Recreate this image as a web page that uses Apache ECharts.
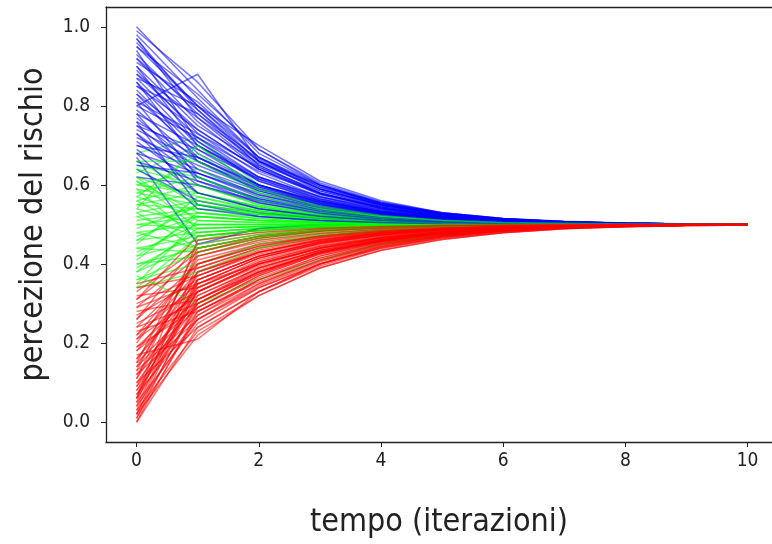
<!DOCTYPE html>
<html>
<head>
<meta charset="utf-8">
<script src="https://cdn.jsdelivr.net/npm/echarts@6/dist/echarts.min.js"></script>
<style>html,body{margin:0;padding:0;background:#fff;}#c{width:772px;height:544px;}</style>
</head>
<body>
<div id="c"></div>
<script>
const iterations = [0,1,2,3,4,5,6,7,8,9,10];
const xTicks = [0,2,4,6,8,10];
const yTicks = [0,0.2,0.4,0.6,0.8,1.0];

const blueLines = [
[1.00,0.84,0.68,0.60,0.555,0.53,0.515,0.508,0.504,0.502,0.501],
[0.98,0.82,0.67,0.59,0.55,0.526,0.513,0.507,0.503,0.501,0.50],
[0.96,0.80,0.70,0.61,0.56,0.53,0.515,0.507,0.503,0.501,0.50],
[0.95,0.80,0.66,0.585,0.545,0.524,0.512,0.506,0.503,0.501,0.50],
[0.93,0.78,0.65,0.58,0.54,0.52,0.51,0.505,0.502,0.501,0.50],
[0.92,0.76,0.64,0.575,0.54,0.52,0.51,0.505,0.502,0.501,0.50],
[0.90,0.75,0.655,0.59,0.55,0.525,0.512,0.506,0.503,0.501,0.50],
[0.89,0.73,0.63,0.57,0.535,0.518,0.509,0.504,0.502,0.501,0.50],
[0.88,0.77,0.66,0.60,0.55,0.527,0.513,0.506,0.503,0.501,0.50],
[0.87,0.72,0.62,0.565,0.533,0.517,0.508,0.504,0.502,0.501,0.50],
[0.86,0.70,0.61,0.56,0.53,0.515,0.507,0.504,0.502,0.501,0.50],
[0.85,0.74,0.64,0.58,0.545,0.522,0.511,0.505,0.502,0.501,0.50],
[0.84,0.69,0.60,0.555,0.528,0.514,0.507,0.503,0.502,0.501,0.50],
[0.83,0.71,0.62,0.57,0.537,0.519,0.51,0.505,0.502,0.501,0.50],
[0.82,0.68,0.60,0.555,0.53,0.515,0.507,0.504,0.502,0.501,0.50],
[0.81,0.73,0.645,0.585,0.548,0.525,0.512,0.506,0.503,0.501,0.50],
[0.80,0.88,0.66,0.59,0.55,0.526,0.513,0.506,0.503,0.501,0.50],
[0.79,0.66,0.59,0.55,0.527,0.514,0.507,0.503,0.502,0.501,0.50],
[0.78,0.70,0.62,0.57,0.54,0.52,0.51,0.505,0.502,0.501,0.50],
[0.77,0.64,0.575,0.54,0.522,0.511,0.506,0.503,0.501,0.50,0.50],
[0.76,0.67,0.60,0.56,0.533,0.517,0.508,0.504,0.502,0.501,0.50],
[0.75,0.63,0.57,0.538,0.52,0.51,0.505,0.503,0.501,0.50,0.50],
[0.74,0.66,0.595,0.557,0.532,0.517,0.508,0.504,0.502,0.501,0.50],
[0.73,0.62,0.565,0.535,0.519,0.51,0.505,0.502,0.501,0.50,0.50],
[0.72,0.65,0.59,0.553,0.53,0.516,0.508,0.504,0.502,0.501,0.50],
[0.71,0.60,0.555,0.53,0.516,0.508,0.504,0.502,0.501,0.50,0.50],
[0.70,0.64,0.585,0.55,0.528,0.515,0.507,0.504,0.502,0.501,0.50],
[0.69,0.58,0.54,0.522,0.512,0.506,0.503,0.502,0.501,0.50,0.50],
[0.68,0.63,0.58,0.546,0.526,0.514,0.507,0.503,0.502,0.501,0.50],
[0.67,0.45,0.49,0.50,0.50,0.50,0.50,0.50,0.50,0.50,0.50],
[0.66,0.61,0.565,0.538,0.521,0.511,0.505,0.503,0.501,0.50,0.50],
[0.64,0.56,0.53,0.515,0.508,0.504,0.502,0.501,0.50,0.50,0.50],
[0.62,0.60,0.56,0.535,0.52,0.51,0.505,0.502,0.501,0.50,0.50],
[0.94,0.71,0.61,0.56,0.53,0.515,0.507,0.504,0.502,0.501,0.50],
[0.91,0.81,0.67,0.595,0.553,0.528,0.514,0.507,0.503,0.501,0.50],
[0.97,0.79,0.65,0.58,0.543,0.522,0.511,0.505,0.502,0.501,0.50],
[0.99,0.86,0.69,0.605,0.557,0.53,0.515,0.507,0.503,0.501,0.50],
[0.76,0.55,0.52,0.51,0.505,0.502,0.501,0.50,0.50,0.50,0.50],
[0.86,0.66,0.585,0.545,0.524,0.512,0.506,0.503,0.501,0.50,0.50],
[0.81,0.62,0.56,0.532,0.517,0.508,0.504,0.502,0.501,0.50,0.50],
[0.95,0.83,0.69,0.60,0.553,0.528,0.514,0.507,0.503,0.501,0.50],
[0.92,0.79,0.66,0.59,0.548,0.525,0.512,0.506,0.503,0.501,0.50],
[0.90,0.70,0.615,0.563,0.532,0.516,0.508,0.504,0.502,0.501,0.50],
[0.88,0.74,0.64,0.578,0.542,0.521,0.51,0.505,0.502,0.501,0.50],
[0.85,0.78,0.665,0.595,0.553,0.528,0.514,0.507,0.503,0.501,0.50],
[0.83,0.67,0.595,0.552,0.527,0.514,0.507,0.503,0.502,0.501,0.50],
[0.80,0.72,0.635,0.578,0.544,0.523,0.511,0.505,0.502,0.501,0.50],
[0.78,0.61,0.555,0.528,0.514,0.507,0.503,0.502,0.501,0.50,0.50],
[0.75,0.69,0.615,0.565,0.536,0.519,0.509,0.504,0.502,0.501,0.50],
[0.73,0.58,0.54,0.52,0.51,0.505,0.502,0.501,0.50,0.50,0.50],
[0.70,0.67,0.60,0.558,0.532,0.517,0.508,0.504,0.502,0.501,0.50],
[0.68,0.54,0.52,0.51,0.505,0.502,0.501,0.50,0.50,0.50,0.50],
[0.65,0.63,0.575,0.543,0.524,0.512,0.506,0.503,0.501,0.50,0.50],
[0.87,0.80,0.67,0.60,0.555,0.529,0.514,0.507,0.503,0.501,0.50],
[0.97,0.77,0.645,0.578,0.542,0.521,0.51,0.505,0.502,0.501,0.50]
];

const greenLines = [
[0.68,0.72,0.60,0.55,0.525,0.512,0.506,0.503,0.501,0.50,0.50],
[0.66,0.58,0.545,0.522,0.511,0.505,0.503,0.501,0.50,0.50,0.50],
[0.65,0.62,0.56,0.53,0.515,0.507,0.503,0.502,0.501,0.50,0.50],
[0.64,0.55,0.525,0.512,0.506,0.503,0.501,0.50,0.50,0.50,0.50],
[0.63,0.70,0.59,0.545,0.522,0.511,0.505,0.503,0.501,0.50,0.50],
[0.62,0.57,0.54,0.52,0.51,0.505,0.502,0.501,0.50,0.50,0.50],
[0.61,0.53,0.515,0.507,0.503,0.502,0.501,0.50,0.50,0.50,0.50],
[0.60,0.58,0.545,0.524,0.512,0.506,0.503,0.501,0.50,0.50,0.50],
[0.59,0.46,0.49,0.497,0.499,0.50,0.50,0.50,0.50,0.50,0.50],
[0.58,0.55,0.53,0.515,0.507,0.504,0.502,0.501,0.50,0.50,0.50],
[0.57,0.52,0.51,0.505,0.502,0.501,0.50,0.50,0.50,0.50,0.50],
[0.56,0.60,0.55,0.525,0.512,0.506,0.503,0.501,0.50,0.50,0.50],
[0.55,0.54,0.525,0.513,0.506,0.503,0.501,0.50,0.50,0.50,0.50],
[0.54,0.50,0.50,0.50,0.50,0.50,0.50,0.50,0.50,0.50,0.50],
[0.53,0.56,0.535,0.517,0.508,0.504,0.502,0.501,0.50,0.50,0.50],
[0.52,0.47,0.485,0.493,0.497,0.499,0.50,0.50,0.50,0.50,0.50],
[0.51,0.53,0.52,0.51,0.505,0.502,0.501,0.50,0.50,0.50,0.50],
[0.50,0.49,0.495,0.498,0.499,0.50,0.50,0.50,0.50,0.50,0.50],
[0.49,0.55,0.53,0.515,0.507,0.504,0.502,0.501,0.50,0.50,0.50],
[0.48,0.44,0.47,0.485,0.493,0.497,0.499,0.50,0.50,0.50,0.50],
[0.47,0.52,0.51,0.505,0.502,0.501,0.50,0.50,0.50,0.50,0.50],
[0.46,0.48,0.49,0.495,0.498,0.499,0.50,0.50,0.50,0.50,0.50],
[0.45,0.57,0.535,0.518,0.509,0.504,0.502,0.501,0.50,0.50,0.50],
[0.44,0.43,0.465,0.483,0.492,0.496,0.498,0.499,0.50,0.50,0.50],
[0.43,0.50,0.50,0.50,0.50,0.50,0.50,0.50,0.50,0.50,0.50],
[0.42,0.46,0.48,0.49,0.495,0.498,0.499,0.50,0.50,0.50,0.50],
[0.41,0.53,0.515,0.507,0.503,0.502,0.501,0.50,0.50,0.50,0.50],
[0.40,0.42,0.46,0.48,0.49,0.495,0.498,0.499,0.50,0.50,0.50],
[0.39,0.48,0.49,0.495,0.498,0.499,0.50,0.50,0.50,0.50,0.50],
[0.38,0.45,0.475,0.488,0.494,0.497,0.499,0.50,0.50,0.50,0.50],
[0.36,0.40,0.45,0.475,0.488,0.494,0.497,0.499,0.50,0.50,0.50],
[0.35,0.51,0.505,0.502,0.501,0.50,0.50,0.50,0.50,0.50,0.50],
[0.34,0.47,0.485,0.493,0.497,0.499,0.50,0.50,0.50,0.50,0.50],
[0.60,0.64,0.57,0.535,0.518,0.509,0.504,0.502,0.501,0.50,0.50],
[0.57,0.68,0.58,0.54,0.52,0.51,0.505,0.502,0.501,0.50,0.50],
[0.53,0.44,0.47,0.485,0.493,0.497,0.499,0.50,0.50,0.50,0.50],
[0.61,0.49,0.495,0.498,0.499,0.50,0.50,0.50,0.50,0.50,0.50],
[0.37,0.30,0.36,0.41,0.45,0.475,0.488,0.494,0.497,0.499,0.50],
[0.66,0.66,0.58,0.54,0.52,0.51,0.505,0.502,0.501,0.50,0.50],
[0.64,0.60,0.55,0.525,0.512,0.506,0.503,0.501,0.50,0.50,0.50],
[0.62,0.51,0.505,0.502,0.501,0.50,0.50,0.50,0.50,0.50,0.50],
[0.59,0.56,0.535,0.517,0.508,0.504,0.502,0.501,0.50,0.50,0.50],
[0.58,0.62,0.56,0.53,0.515,0.507,0.503,0.502,0.501,0.50,0.50],
[0.56,0.48,0.49,0.495,0.498,0.499,0.50,0.50,0.50,0.50,0.50],
[0.55,0.58,0.545,0.522,0.511,0.505,0.503,0.501,0.50,0.50,0.50],
[0.52,0.54,0.525,0.512,0.506,0.503,0.501,0.50,0.50,0.50,0.50],
[0.50,0.52,0.51,0.505,0.502,0.501,0.50,0.50,0.50,0.50,0.50],
[0.48,0.50,0.50,0.50,0.50,0.50,0.50,0.50,0.50,0.50,0.50],
[0.46,0.55,0.53,0.515,0.507,0.504,0.502,0.501,0.50,0.50,0.50],
[0.44,0.47,0.485,0.493,0.497,0.499,0.50,0.50,0.50,0.50,0.50],
[0.42,0.52,0.51,0.505,0.502,0.501,0.50,0.50,0.50,0.50,0.50],
[0.40,0.44,0.47,0.485,0.493,0.497,0.499,0.50,0.50,0.50,0.50],
[0.38,0.49,0.495,0.498,0.499,0.50,0.50,0.50,0.50,0.50,0.50],
[0.36,0.43,0.465,0.483,0.492,0.496,0.498,0.499,0.50,0.50,0.50],
[0.34,0.38,0.44,0.47,0.485,0.493,0.497,0.499,0.50,0.50,0.50],
[0.54,0.70,0.59,0.545,0.522,0.511,0.505,0.503,0.501,0.50,0.50]
];

const redLines = [
[0.00,0.24,0.33,0.40,0.44,0.465,0.48,0.49,0.495,0.498,0.499],
[0.01,0.27,0.36,0.42,0.455,0.473,0.485,0.492,0.496,0.498,0.499],
[0.02,0.30,0.38,0.43,0.46,0.477,0.488,0.494,0.497,0.499,0.50],
[0.03,0.35,0.40,0.44,0.465,0.48,0.49,0.495,0.497,0.499,0.50],
[0.04,0.26,0.345,0.405,0.447,0.47,0.484,0.492,0.496,0.498,0.499],
[0.05,0.40,0.45,0.47,0.485,0.492,0.496,0.498,0.499,0.50,0.50],
[0.06,0.29,0.37,0.425,0.457,0.475,0.487,0.493,0.497,0.498,0.499],
[0.07,0.32,0.39,0.435,0.462,0.479,0.489,0.494,0.497,0.499,0.50],
[0.08,0.28,0.355,0.41,0.45,0.472,0.485,0.492,0.496,0.498,0.499],
[0.09,0.36,0.42,0.455,0.475,0.487,0.493,0.497,0.498,0.499,0.50],
[0.10,0.31,0.385,0.432,0.46,0.478,0.488,0.494,0.497,0.499,0.50],
[0.11,0.43,0.47,0.485,0.492,0.496,0.498,0.499,0.50,0.50,0.50],
[0.12,0.33,0.40,0.44,0.465,0.48,0.49,0.495,0.497,0.499,0.50],
[0.13,0.27,0.35,0.408,0.448,0.471,0.485,0.492,0.496,0.498,0.499],
[0.14,0.38,0.43,0.46,0.478,0.488,0.494,0.497,0.499,0.50,0.50],
[0.15,0.30,0.375,0.428,0.458,0.476,0.487,0.493,0.497,0.498,0.499],
[0.16,0.34,0.41,0.448,0.47,0.483,0.491,0.495,0.498,0.499,0.50],
[0.17,0.21,0.33,0.40,0.445,0.47,0.484,0.492,0.496,0.498,0.499],
[0.18,0.37,0.425,0.458,0.477,0.488,0.494,0.497,0.499,0.50,0.50],
[0.19,0.29,0.365,0.42,0.455,0.474,0.486,0.493,0.496,0.498,0.499],
[0.20,0.41,0.45,0.472,0.485,0.492,0.496,0.498,0.499,0.50,0.50],
[0.21,0.32,0.39,0.435,0.463,0.479,0.489,0.494,0.497,0.499,0.50],
[0.22,0.35,0.415,0.452,0.473,0.485,0.492,0.496,0.498,0.499,0.50],
[0.23,0.28,0.36,0.415,0.452,0.473,0.486,0.493,0.496,0.498,0.499],
[0.24,0.39,0.44,0.467,0.482,0.49,0.495,0.497,0.499,0.50,0.50],
[0.25,0.33,0.40,0.442,0.467,0.481,0.49,0.495,0.497,0.499,0.50],
[0.26,0.45,0.475,0.488,0.494,0.497,0.499,0.50,0.50,0.50,0.50],
[0.27,0.36,0.42,0.457,0.477,0.488,0.494,0.497,0.498,0.499,0.50],
[0.28,0.31,0.38,0.43,0.46,0.478,0.488,0.494,0.497,0.499,0.50],
[0.29,0.42,0.455,0.476,0.487,0.493,0.497,0.498,0.499,0.50,0.50],
[0.30,0.37,0.43,0.462,0.48,0.49,0.495,0.497,0.499,0.50,0.50],
[0.31,0.47,0.485,0.493,0.497,0.499,0.50,0.50,0.50,0.50,0.50],
[0.32,0.34,0.405,0.445,0.468,0.482,0.49,0.495,0.497,0.499,0.50],
[0.33,0.44,0.47,0.485,0.492,0.496,0.498,0.499,0.50,0.50,0.50],
[0.35,0.39,0.44,0.468,0.483,0.491,0.495,0.498,0.499,0.50,0.50],
[0.02,0.22,0.32,0.39,0.435,0.462,0.479,0.489,0.494,0.497,0.499],
[0.05,0.25,0.34,0.40,0.443,0.468,0.483,0.491,0.495,0.498,0.499],
[0.08,0.33,0.395,0.44,0.466,0.481,0.49,0.495,0.497,0.499,0.50],
[0.12,0.26,0.34,0.40,0.443,0.468,0.483,0.491,0.495,0.498,0.499],
[0.15,0.44,0.47,0.485,0.492,0.496,0.498,0.499,0.50,0.50,0.50],
[0.18,0.31,0.38,0.43,0.46,0.477,0.488,0.494,0.497,0.499,0.50],
[0.22,0.40,0.445,0.47,0.484,0.492,0.496,0.498,0.499,0.50,0.50],
[0.01,0.31,0.39,0.435,0.462,0.479,0.489,0.494,0.497,0.499,0.50],
[0.04,0.36,0.42,0.455,0.475,0.487,0.493,0.497,0.498,0.499,0.50],
[0.10,0.24,0.33,0.395,0.44,0.466,0.482,0.491,0.495,0.498,0.499],
[0.00,0.28,0.36,0.415,0.452,0.473,0.486,0.493,0.496,0.498,0.499],
[0.02,0.34,0.405,0.445,0.468,0.482,0.49,0.495,0.497,0.499,0.50],
[0.03,0.23,0.32,0.39,0.435,0.462,0.479,0.489,0.494,0.497,0.499],
[0.06,0.38,0.43,0.46,0.478,0.488,0.494,0.497,0.499,0.50,0.50],
[0.07,0.26,0.35,0.41,0.45,0.472,0.485,0.492,0.496,0.498,0.499],
[0.09,0.30,0.38,0.43,0.46,0.477,0.488,0.494,0.497,0.499,0.50],
[0.11,0.35,0.415,0.452,0.473,0.485,0.492,0.496,0.498,0.499,0.50],
[0.13,0.42,0.46,0.478,0.488,0.494,0.497,0.499,0.50,0.50,0.50],
[0.14,0.29,0.37,0.425,0.457,0.475,0.487,0.493,0.497,0.498,0.499],
[0.16,0.36,0.42,0.455,0.475,0.487,0.493,0.497,0.498,0.499,0.50],
[0.19,0.33,0.40,0.44,0.465,0.48,0.49,0.495,0.497,0.499,0.50],
[0.21,0.38,0.435,0.465,0.481,0.49,0.495,0.497,0.499,0.50,0.50],
[0.24,0.30,0.375,0.428,0.458,0.476,0.487,0.493,0.497,0.498,0.499],
[0.26,0.40,0.445,0.47,0.484,0.492,0.496,0.498,0.499,0.50,0.50],
[0.29,0.35,0.415,0.452,0.473,0.485,0.492,0.496,0.498,0.499,0.50],
[0.31,0.43,0.465,0.483,0.492,0.496,0.498,0.499,0.50,0.50,0.50],
[0.34,0.37,0.43,0.462,0.48,0.49,0.495,0.497,0.499,0.50,0.50],
[0.06,0.46,0.48,0.49,0.495,0.498,0.499,0.50,0.50,0.50,0.50]
];

const groups = [
  {lines: blueLines, color: '#0000ff'},
  {lines: greenLines, color: '#00ff00'},
  {lines: redLines, color: '#ff0000'}
];

// interleave the three groups so that colours mix where lines overlap
const series = [];
const maxLen = Math.max(...groups.map(g => g.lines.length));
for (let i = 0; i < maxLen; i++) {
  groups.forEach(g => {
    const line = g.lines[i];
    if (!line) return;
    series.push({
      type: 'line',
      data: iterations.map((x, k) => [x, line[k]]),
      showSymbol: false,
      silent: true,
      lineStyle: {width: 1.5, color: g.color, opacity: 0.55},
      emphasis: {disabled: true}
    });
  });
}

const FONT = '"DejaVu Sans Condensed", "DejaVu Sans", sans-serif';
const chart = echarts.init(document.getElementById('c'), null, {renderer: 'canvas'});
const axisCol = '#222';
chart.setOption({
  animation: false,
  backgroundColor: '#fff',
  grid: {left: 106, top: 7, right: 0, bottom: 101, containLabel: false},
  xAxis: [{
    type: 'value', min: -0.5, max: 10.4,
    splitLine: {show: false},
    axisLine: {show: true, onZero: false, lineStyle: {color: axisCol, width: 1.3}},
    axisTick: {show: true, length: 5, lineStyle: {color: axisCol}, customValues: xTicks},
    axisLabel: {color: '#222', fontSize: 19, fontFamily: FONT, margin: 10, customValues: xTicks},
    name: 'tempo (iterazioni)', nameLocation: 'middle', nameGap: 65,
    nameTextStyle: {fontSize: 32, fontFamily: FONT, color: '#222'}
  }, {
    type: 'value', position: 'top', min: -0.5, max: 10.4,
    splitLine: {show: false}, axisTick: {show: false}, axisLabel: {show: false},
    axisLine: {show: true, onZero: false, lineStyle: {color: axisCol, width: 1.3}}
  }],
  yAxis: [{
    type: 'value', min: -0.05, max: 1.05,
    splitLine: {show: false},
    axisLine: {show: true, onZero: false, lineStyle: {color: axisCol, width: 1.3}},
    axisTick: {show: true, length: 5, lineStyle: {color: axisCol}, customValues: yTicks},
    axisLabel: {color: '#222', fontSize: 19, fontFamily: FONT, margin: 16, customValues: yTicks,
      formatter: v => v.toFixed(1)},
    name: 'percezione del rischio', nameLocation: 'middle', nameGap: 56,
    nameTextStyle: {fontSize: 32, fontFamily: FONT, color: '#222'}
  }],
  series: series
});
</script>
</body>
</html>
